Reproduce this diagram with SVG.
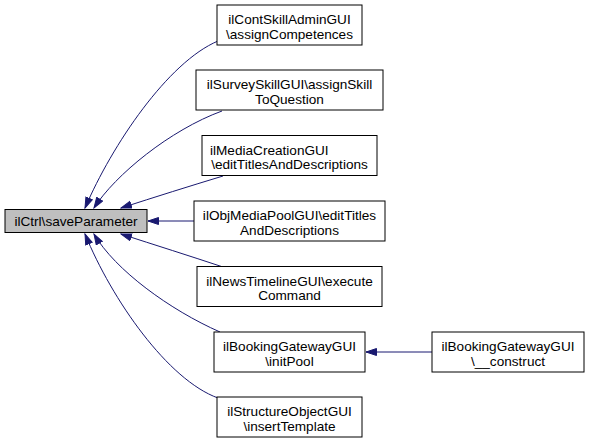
<svg xmlns="http://www.w3.org/2000/svg" width="589" height="444" viewBox="0 0 589 444">
<style>
.n rect{fill:#fff;stroke:#000;stroke-width:1}
.n text{font-family:"Liberation Sans",Arial,sans-serif;font-size:13.6px;fill:#000;text-anchor:middle}
.n text.l{text-anchor:start}
#main rect{fill:#bfbfbf}
.e path{fill:none;stroke:#191970;stroke-width:1}
</style>
<defs>
<marker id="ah" markerUnits="userSpaceOnUse" markerWidth="12" markerHeight="9" refX="11" refY="4" orient="auto">
<path d="M0.5,0.5 L11,4 L0.5,7.5 z" fill="#191970" stroke="#191970" stroke-width="1"/>
</marker>
</defs>
<rect width="589" height="444" fill="#fff"/>
<g id="edges" class="e">
<path d="M218,41 C168,62 112,145 85,208" marker-end="url(#ah)"/>
<path d="M222,111 C170,130 115,175 94,208" marker-end="url(#ah)"/>
<path d="M223,176 C190,186 155,197 121,208" marker-end="url(#ah)"/>
<path d="M194,221 L148,221" marker-end="url(#ah)"/>
<path d="M223,267 C190,256 155,245 121,234" marker-end="url(#ah)"/>
<path d="M220,332 C170,310 115,270 94,234" marker-end="url(#ah)"/>
<path d="M218,398 C168,380 112,300 85,234" marker-end="url(#ah)"/>
<path d="M432,352 L366,352" marker-end="url(#ah)"/>
</g>
<g id="main" class="n">
<rect x="5" y="209.5" width="142" height="23"/>
<text x="76" y="226">ilCtrl\saveParameter</text>
</g>
<g id="n1" class="n">
<rect x="217" y="5" width="145" height="40"/>
<text x="289.5" y="24">ilContSkillAdminGUI</text>
<text x="289.5" y="38.5">\assignCompetences</text>
</g>
<g id="n2" class="n">
<rect x="196" y="70" width="187" height="40"/>
<text x="289.5" y="89">ilSurveySkillGUI\assignSkill</text>
<text x="289.5" y="103.5">ToQuestion</text>
</g>
<g id="n3" class="n">
<rect x="202" y="135.5" width="175" height="40"/>
<text class="l" x="210" y="154.5">ilMediaCreationGUI</text>
<text x="289.5" y="169">\editTitlesAndDescriptions</text>
</g>
<g id="n4" class="n">
<rect x="194" y="201" width="191" height="40"/>
<text x="289.5" y="220">ilObjMediaPoolGUI\editTitles</text>
<text x="289.5" y="234.5">AndDescriptions</text>
</g>
<g id="n5" class="n">
<rect x="197" y="266.5" width="185" height="40"/>
<text x="289.5" y="285.5">ilNewsTimelineGUI\execute</text>
<text x="289.5" y="300">Command</text>
</g>
<g id="n6" class="n">
<rect x="214" y="332" width="151" height="40"/>
<text x="289.5" y="351">ilBookingGatewayGUI</text>
<text x="289.5" y="365.5">\initPool</text>
</g>
<g id="n7" class="n">
<rect x="217" y="397" width="145" height="40"/>
<text x="289.5" y="416">ilStructureObjectGUI</text>
<text x="289.5" y="430.5">\insertTemplate</text>
</g>
<g id="n8" class="n">
<rect x="432" y="332" width="152" height="40"/>
<text x="508" y="351">ilBookingGatewayGUI</text>
<text x="508" y="365.5">\__construct</text>
</g>
</svg>
